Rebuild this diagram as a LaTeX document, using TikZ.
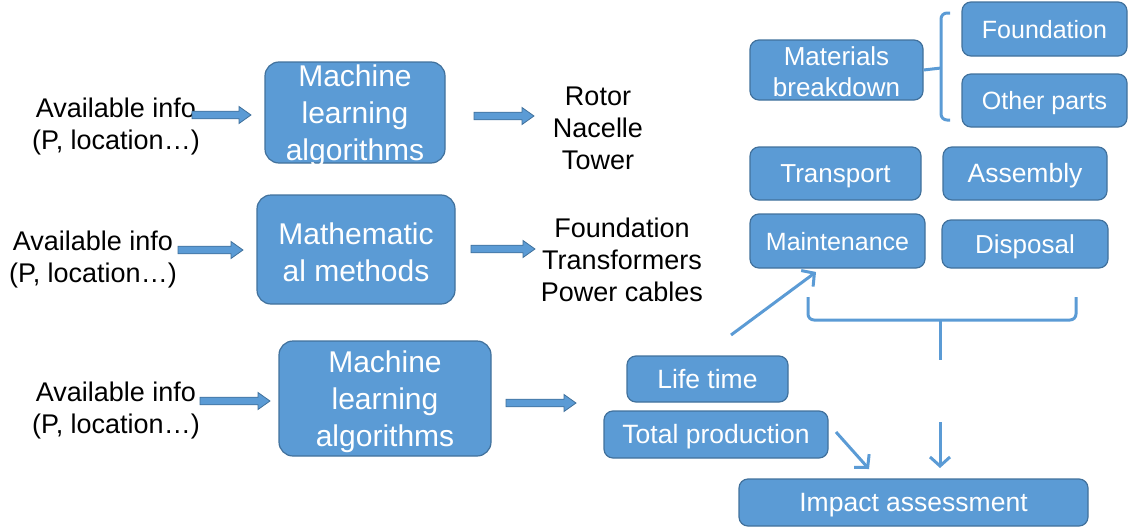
\documentclass[tikz,border=0pt]{standalone}
\usepackage{fontspec}
\setmainfont{Liberation Sans}
\usetikzlibrary{arrows.meta,calc}
\definecolor{boxfill}{HTML}{5B9BD5}
\definecolor{boxline}{HTML}{41719C}
% horizontal block arrow from #1 to #2 (same height)
\newcommand\blockarrow[2]{%
  \draw[barrow] ($(#1)+(0,-3.8)$) -- ($(#2)+(-12,-3.8)$) -- ($(#2)+(-12,-8.5)$)
    -- (#2) -- ($(#2)+(-12,8.5)$) -- ($(#2)+(-12,3.8)$) -- ($(#1)+(0,3.8)$) -- cycle;}
\begin{document}
\begin{tikzpicture}[x=1pt,y=-1pt,
  shell/.style={draw=boxline, line width=1.2pt, fill=boxfill, rounded corners=9pt,
    inner sep=0pt},
  box/.style={shell, text=white, text height=18.5pt, text depth=0pt,
    font=\fontsize{26}{30}\selectfont},
  btext/.style={text=white, align=center, inner sep=0pt},
  bigbox/.style={shell, rounded corners=14pt,
    label={[btext, yshift=-3pt, font=\fontsize{30}{37}\selectfont]center:{#1}}},
  twobox/.style={shell,
    label={[btext, yshift=-2pt, font=\fontsize{26}{31}\selectfont]center:{#1}}},
  plain/.style={align=center, inner sep=0pt, font=\fontsize{27}{32}\selectfont},
  barrow/.style={draw=boxline, fill=boxfill, line width=0.8pt, line join=miter},
  thinarrow/.style={draw=boxfill, line width=3pt,
    -{Straight Barb[length=9pt,width=20pt,line width=3pt]}},
  brace/.style={draw=boxfill, line width=3pt, rounded corners=6pt}
]
\useasboundingbox (0,0) rectangle (1129,530);

% left column: inputs
\node[plain] (info1) at (116,127) {Available info\\(P, location\ldots)};
\node[plain] (info2) at (93,260) {Available info\\(P, location\ldots)};
\node[plain] (info3) at (116,411) {Available info\\(P, location\ldots)};

% methods
\node[bigbox={Machine\\learning\\algorithms}, minimum width=180pt, minimum height=101pt]
  (ml1) at (355,112.5) {};
\node[bigbox={Mathematic\\al methods}, minimum width=198pt, minimum height=109pt]
  (math) at (356,249.5) {};
\node[bigbox={Machine\\learning\\algorithms}, minimum width=212pt, minimum height=115pt]
  (ml3) at (385,398.5) {};

% outputs
\node[plain] (parts1) at (598,128) {Rotor\\Nacelle\\Tower};
\node[plain] (parts2) at (622,260) {Foundation\\Transformers\\Power cables};

% block arrows
\coordinate (a1s) at (192,115);   \coordinate (a1e) at (251,115);
\coordinate (a2s) at (474,116);   \coordinate (a2e) at (534,116);
\coordinate (a3s) at (178,250);   \coordinate (a3e) at (243,250);
\coordinate (a4s) at (471,249);   \coordinate (a4e) at (535,249);
\coordinate (a5s) at (200,401);   \coordinate (a5e) at (270,401);
\coordinate (a6s) at (506,403);   \coordinate (a6e) at (576,403);
\blockarrow{a1s}{a1e}
\blockarrow{a2s}{a2e}
\blockarrow{a3s}{a3e}
\blockarrow{a4s}{a4e}
\blockarrow{a5s}{a5e}
\blockarrow{a6s}{a6e}

% right part: materials and life-cycle stages
\node[twobox={Materials\\breakdown}, minimum width=173pt, minimum height=60pt]
  (mat) at (836.5,70) {};
\node[box, font=\fontsize{25}{30}\selectfont, minimum width=165pt, minimum height=54pt]
  (fnd) at (1044.5,29) {Foundation};
\node[box, font=\fontsize{25}{30}\selectfont, minimum width=165pt, minimum height=53pt]
  (oth) at (1044.5,100.5) {Other parts};
\node[box, minimum width=171pt, minimum height=53pt] (trans) at (835.5,173.5) {Transport};
\node[box, font=\fontsize{26.5}{30}\selectfont, minimum width=164pt, minimum height=53pt]
  (asm) at (1025,173.5) {Assembly};
\node[box, font=\fontsize{25}{30}\selectfont, minimum width=175pt, minimum height=54pt]
  (maint) at (837.5,241) {Maintenance};
\node[box, minimum width=166pt, minimum height=48pt] (disp) at (1025,244) {Disposal};
\node[box, font=\fontsize{26.5}{30}\selectfont, minimum width=161pt, minimum height=46pt]
  (life) at (707.5,379) {Life time};
\node[box, font=\fontsize{26.5}{30}\selectfont, minimum width=224pt, minimum height=47pt]
  (total) at (716,434.5) {Total production};
\node[box, font=\fontsize{26.5}{30}\selectfont, minimum width=349pt, minimum height=47pt]
  (impact) at (913.5,502.5) {Impact assessment};

% brace grouping the material parts
\draw[brace] (950,13) -- (941,13) -- (941,120) -- (950,120);
\draw[brace] (mat.east) -- (941,68);

% brace grouping the stages
\coordinate (bl) at (808,297);
\coordinate (br) at (1076,297);
\coordinate (bm) at (940,320);
\draw[brace] (bl) -- (808,320) -- (1076,320) -- (br);
\draw[brace] (bm) -- (940,360);

% thin arrows
\coordinate (d1s) at (731,335);
\coordinate (d1e) at (816,272);
\draw[thinarrow] (d1s) -- (d1e);
\coordinate (d2s) at (836,432);
\coordinate (d2e) at (869,469);
\draw[thinarrow] (d2s) -- (d2e);
\coordinate (d3s) at (940,422);
\coordinate (d3e) at (940,468);
\draw[thinarrow] (d3s) -- (d3e);
\end{tikzpicture}
\end{document}
